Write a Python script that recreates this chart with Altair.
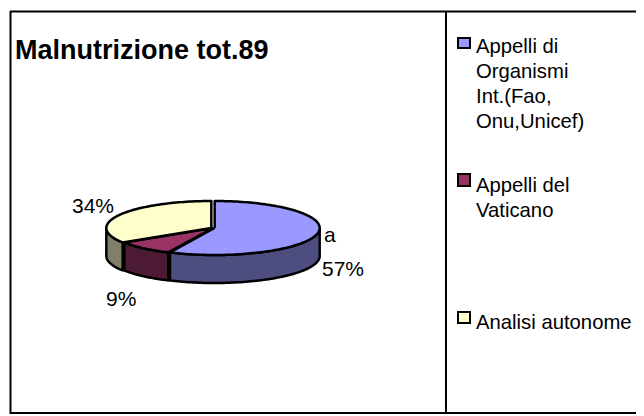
import math
import altair as alt
import pandas as pd

title_text = "Malnutrizione tot.89"
categories = ["Appelli di\nOrganismi\nInt.(Fao,\nOnu,Unicef)", "Appelli del\nVaticano", "Analisi autonome"]
shares = [57, 9, 34]
pct_labels = ["57%", "9%", "34%"]
top_colors = ["#9999FF", "#993366", "#FFFFCC"]
side_colors = ["#4D4D80", "#4D1A33", "#80806A"]
series_label = "a"

W, H = 628, 407
CX, CY, RX, RY, DEPTH = 213, 228, 105, 27, 28
SLICE_GAP = [0.016, 0.0, -0.016]
x_scale = alt.Scale(domain=[-1, 1], range=[CX - RX - 8, CX + RX - 8], nice=False, zero=False)
y_scale = alt.Scale(domain=[-1, 1], range=[CY - RY - 8, CY + RY - 8], nice=False, zero=False)
depth_u = DEPTH / RY
ax_x = alt.X("u:Q", scale=x_scale, axis=None)
ax_y = alt.Y("v:Q", scale=y_scale, axis=None)


def pt(turn):
    a = 2 * math.pi * turn
    return math.sin(a), -math.cos(a)


def top_poly(t0, t1, gap):
    n = max(2, int((t1 - t0) * 240))
    pts = [(0.0, 0.0)] + [pt(t0 + (t1 - t0) * k / n) for k in range(n + 1)] + [(0.0, 0.0)]
    return [(u + gap, v) for u, v in pts]


def side_poly(t0, t1, gap):
    lo, hi = max(t0, 0.25), min(t1, 0.75)
    if lo >= hi:
        return None
    n = max(2, int((hi - lo) * 240))
    arc = [pt(lo + (hi - lo) * k / n) for k in range(n + 1)]
    pts = arc + [(u, v + depth_u) for u, v in reversed(arc)] + [arc[0]]
    return [(u + gap, v) for u, v in pts]


def poly_layer(pts, fill):
    df = pd.DataFrame({"u": [p[0] for p in pts], "v": [p[1] for p in pts], "i": range(len(pts))})
    return alt.Chart(df).mark_line(fill=fill, stroke="black", strokeWidth=2.5, strokeJoin="round", interpolate="linear").encode(
        x=ax_x, y=ax_y, order="i:Q"
    )


layers = []
bounds = []
t = 0.0
for s in shares:
    bounds.append((t, t + s / 100))
    t += s / 100
for (t0, t1), c, g in zip(bounds, side_colors, SLICE_GAP):
    poly = side_poly(t0, t1, g)
    if poly:
        layers.append(poly_layer(poly, c))
for (t0, t1), c, g in zip(bounds, top_colors, SLICE_GAP):
    layers.append(poly_layer(top_poly(t0, t1, g), c))

one = pd.DataFrame({"k": [0]})


def rule(x=None, x2=None, y=None, y2=None):
    enc = {}
    if x is not None:
        enc["x"] = alt.value(x)
    if x2 is not None:
        enc["x2"] = alt.value(x2)
    if y is not None:
        enc["y"] = alt.value(y)
    if y2 is not None:
        enc["y2"] = alt.value(y2)
    return alt.Chart(one).mark_rule(color="black", strokeWidth=2).encode(**enc)


frame = [
    rule(x=2, x2=W, y=3.5),
    rule(x=2, x2=W, y=405),
    rule(x=2.5, y=3, y2=406),
    rule(x=438, y=3, y2=406),
]


def text(s, px, py, size=21, **kw):
    return alt.Chart(pd.DataFrame({"t": [s]})).mark_text(
        font="Liberation Sans", fontSize=size, align="left", baseline="alphabetic", color="black", **kw
    ).encode(x=alt.value(px - 8), y=alt.value(py - 8), text="t:N")


texts = [
    text(title_text, 15, 59, size=27, fontWeight="bold"),
    text(series_label, 324, 242),
    text(pct_labels[0], 322, 276),
    text(pct_labels[1], 106, 306),
    text(pct_labels[2], 72, 213),
]

legend_pos = [(476, 53, 458, 38, 10), (476, 192, 458, 174, 12), (476, 329, 458, 312, 11)]
legend = []
for cat, col, (tx, ty, sx, sy, sh) in zip(categories, top_colors, legend_pos):
    legend.append(text(cat, tx, ty, size=20.3, lineBreak="\n", lineHeight=25))
    legend.append(
        alt.Chart(one).mark_rect(fill=col, stroke="black", strokeWidth=2).encode(
            x=alt.value(sx - 8), x2=alt.value(sx + 12 - 8), y=alt.value(sy - 8), y2=alt.value(sy + sh - 8)
        )
    )

chart = alt.layer(*layers, *frame, *texts, *legend).resolve_scale(x="shared", y="shared").properties(
    width=W, height=H, padding=0, autosize=alt.AutoSizeParams(type="none"), background="white"
).configure_view(stroke=None)

chart.save("out.html", embed_options={"renderer": "svg", "actions": False})
